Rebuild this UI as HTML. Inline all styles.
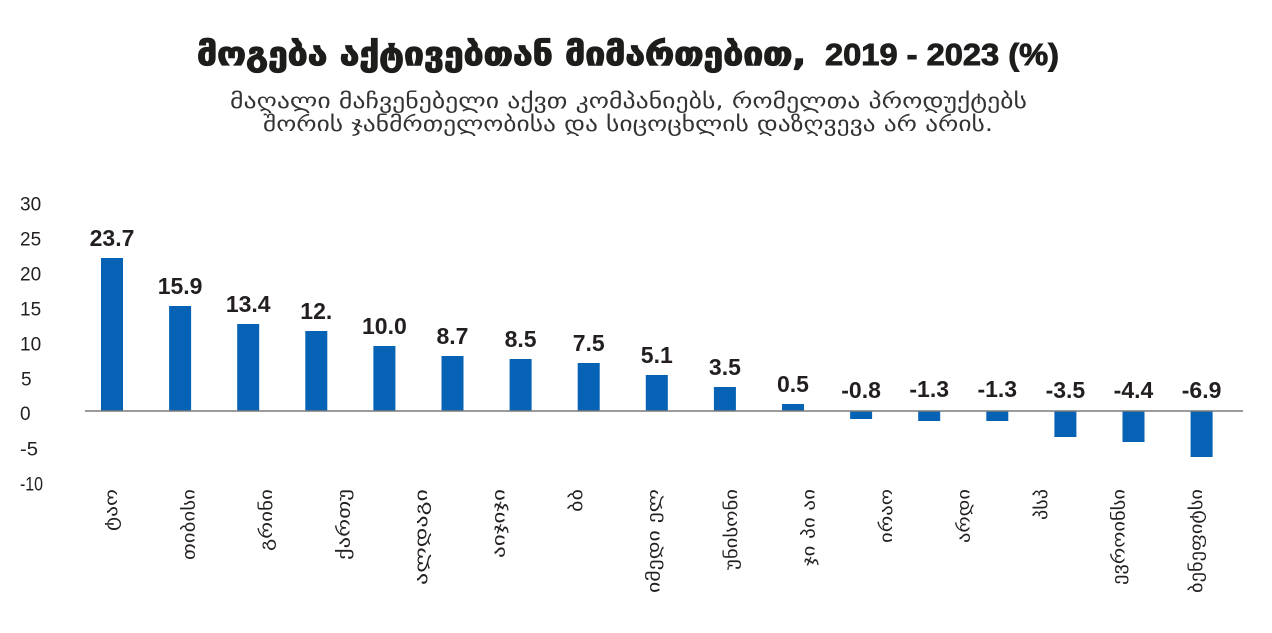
<!DOCTYPE html>
<html>
<head>
<meta charset="utf-8">
<style>
  html,body{margin:0;padding:0;background:#fff;}
  svg{display:block;}
</style>
</head>
<body>
<svg width="1272" height="633" viewBox="0 0 1272 633" xmlns="http://www.w3.org/2000/svg">
  <rect width="1272" height="633" fill="#ffffff"/>

  <!-- Title -->
  <text x="197" y="65" font-family="'DejaVu Sans', sans-serif" font-weight="bold" font-size="32" fill="#1d1d1b" stroke="#1d1d1b" stroke-width="1.3" textLength="609" lengthAdjust="spacingAndGlyphs">მოგება აქტივებთან მიმართებით,</text>
  <text x="825" y="65" font-family="'Liberation Sans', sans-serif" font-weight="bold" font-size="31" fill="#1d1d1b" stroke="#1d1d1b" stroke-width="0.9" textLength="234" lengthAdjust="spacingAndGlyphs">2019 - 2023 (%)</text>

  <!-- Subtitle -->
  <text x="628.5" y="108" text-anchor="middle" font-family="'DejaVu Sans', sans-serif" font-size="21" fill="#333" textLength="797" lengthAdjust="spacingAndGlyphs">მაღალი მაჩვენებელი აქვთ კომპანიებს, რომელთა პროდუქტებს</text>
  <text x="628" y="131" text-anchor="middle" font-family="'DejaVu Sans', sans-serif" font-size="21" fill="#333" textLength="730" lengthAdjust="spacingAndGlyphs">შორის ჯანმრთელობისა და სიცოცხლის დაზღვევა არ არის.</text>

  <!-- Y tick labels -->
  <g font-family="'Liberation Sans', sans-serif" font-size="19" fill="#231f20">
    <text x="20" y="210.5">30</text>
    <text x="20" y="245.5">25</text>
    <text x="20" y="280.5">20</text>
    <text x="20" y="315.5">15</text>
    <text x="20" y="350.5">10</text>
    <text x="21" y="385.5">5</text>
    <text x="20" y="420">0</text>
    <text x="20" y="455.5" textLength="18" lengthAdjust="spacingAndGlyphs">-5</text>
    <text x="20" y="490.5" textLength="23" lengthAdjust="spacingAndGlyphs">-10</text>
  </g>

  <!-- Bars -->
  <g fill="#0662b4">
    <rect x="101" y="258" width="22" height="153"/>
    <rect x="169.1" y="306" width="22" height="105"/>
    <rect x="237.2" y="324" width="22" height="87"/>
    <rect x="305.3" y="331" width="22" height="80"/>
    <rect x="373.4" y="346" width="22" height="65"/>
    <rect x="441.5" y="356" width="22" height="55"/>
    <rect x="509.6" y="359" width="22" height="52"/>
    <rect x="577.7" y="363" width="22" height="48"/>
    <rect x="645.8" y="375" width="22" height="36"/>
    <rect x="713.9" y="387" width="22" height="24"/>
    <rect x="782" y="404" width="22" height="7"/>
    <rect x="850.1" y="411" width="22" height="8"/>
    <rect x="918.2" y="411" width="22" height="10"/>
    <rect x="986.3" y="411" width="22" height="10"/>
    <rect x="1054.4" y="411" width="22" height="26"/>
    <rect x="1122.5" y="411" width="22" height="31"/>
    <rect x="1190.6" y="411" width="22" height="46"/>
  </g>

  <!-- Zero axis -->
  <line x1="85" y1="411" x2="1243" y2="411" stroke="#7a7a7a" stroke-width="1.6"/>

  <!-- Value labels -->
  <g font-family="'Liberation Sans', sans-serif" font-weight="bold" font-size="23" fill="#231f20" text-anchor="middle">
    <text x="112" y="246">23.7</text>
    <text x="180.1" y="294">15.9</text>
    <text x="248.2" y="312">13.4</text>
    <text x="316.3" y="319">12.</text>
    <text x="384.4" y="334">10.0</text>
    <text x="452.5" y="344">8.7</text>
    <text x="520.6" y="347">8.5</text>
    <text x="588.7" y="351">7.5</text>
    <text x="656.8" y="363">5.1</text>
    <text x="724.9" y="375">3.5</text>
    <text x="793" y="392">0.5</text>
    <text x="861.1" y="398">-0.8</text>
    <text x="929.2" y="397">-1.3</text>
    <text x="997.3" y="397">-1.3</text>
    <text x="1065.4" y="398">-3.5</text>
    <text x="1133.5" y="398">-4.4</text>
    <text x="1201.6" y="398">-6.9</text>
  </g>

  <!-- X category labels (rotated) -->
  <g font-family="'DejaVu Sans', sans-serif" font-size="17" fill="#231f20" text-anchor="end">
    <text transform="translate(117.2,489) rotate(-90)" textLength="42" lengthAdjust="spacingAndGlyphs">ტაო</text>
    <text transform="translate(194.7,489) rotate(-90)" textLength="71" lengthAdjust="spacingAndGlyphs">თიბისი</text>
    <text transform="translate(272.2,489) rotate(-90)" textLength="62" lengthAdjust="spacingAndGlyphs">გრინი</text>
    <text transform="translate(349.7,489) rotate(-90)" textLength="71" lengthAdjust="spacingAndGlyphs">ქართუ</text>
    <text transform="translate(427.2,489) rotate(-90)" textLength="96" lengthAdjust="spacingAndGlyphs">ალდაგი</text>
    <text transform="translate(504.7,489) rotate(-90)" textLength="69" lengthAdjust="spacingAndGlyphs">აიჯიჯი</text>
    <text transform="translate(582.2,489) rotate(-90)" textLength="23" lengthAdjust="spacingAndGlyphs">ბბ</text>
    <text transform="translate(659.7,489) rotate(-90)" textLength="104" lengthAdjust="spacingAndGlyphs">იმედი ელ</text>
    <text transform="translate(737.2,489) rotate(-90)" textLength="81" lengthAdjust="spacingAndGlyphs">უნისონი</text>
    <text transform="translate(814.7,489) rotate(-90)" textLength="77" lengthAdjust="spacingAndGlyphs">ჯი პი აი</text>
    <text transform="translate(892.2,489) rotate(-90)" textLength="54" lengthAdjust="spacingAndGlyphs">ირაო</text>
    <text transform="translate(969.7,489) rotate(-90)" textLength="54" lengthAdjust="spacingAndGlyphs">არდი</text>
    <text transform="translate(1047.2,489) rotate(-90)" textLength="31" lengthAdjust="spacingAndGlyphs">პსპ</text>
    <text transform="translate(1124.7,489) rotate(-90)" textLength="96" lengthAdjust="spacingAndGlyphs">ევროინსი</text>
    <text transform="translate(1202.2,489) rotate(-90)" textLength="104" lengthAdjust="spacingAndGlyphs">ბენეფიტსი</text>
  </g>
</svg>
</body>
</html>
